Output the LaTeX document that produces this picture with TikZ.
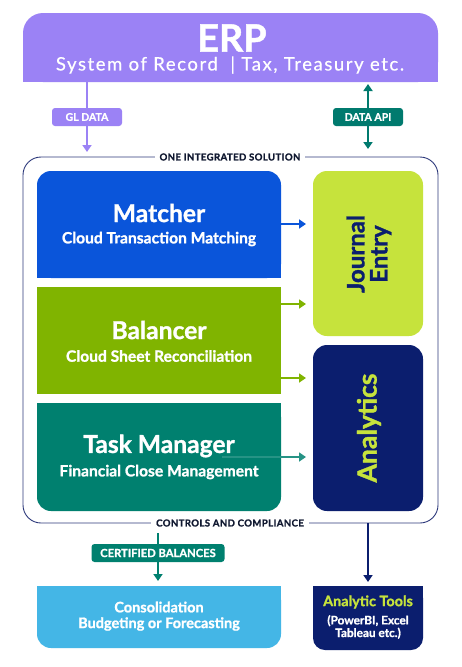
\documentclass[tikz,border=0pt]{standalone}
\usepackage{fontspec}
\setmainfont{Lato}[BoldFeatures={FakeBold=1.2}]
\newfontfamily\erpsubfont{Lato}[LetterSpace=8.5,FakeBold=0.5]
\newfontfamily\capsfont{Lato}[LetterSpace=4,BoldFeatures={FakeBold=1.2}]
\usetikzlibrary{arrows.meta}
\definecolor{erpc}{HTML}{9B82F5}
\definecolor{tealc}{HTML}{007A6E}
\definecolor{contc}{HTML}{2E3A7C}
\definecolor{matc}{HTML}{0A55DA}
\definecolor{balc}{HTML}{80B400}
\definecolor{taskc}{HTML}{00806F}
\definecolor{limec}{HTML}{C6E33C}
\definecolor{navyc}{HTML}{0B1E6E}
\definecolor{skyc}{HTML}{44B6E6}
\definecolor{labtxt}{HTML}{101830}
\tikzset{
  arr/.style={line width=2pt,-{Triangle[length=7pt,width=9pt]}},
  darr/.style={line width=2pt,{Triangle[length=7pt,width=9pt]}-{Triangle[length=7pt,width=9pt]}},
  tag/.style={rounded corners=3pt,text=white,font=\bfseries\fontsize{10.5}{12}\selectfont,minimum height=18pt,inner xsep=4pt},
  sect/.style={fill=white,text=labtxt,font=\capsfont\bfseries\fontsize{9.6}{11}\selectfont,inner xsep=5pt,inner ysep=1pt},
  ttl/.style={text=white,font=\bfseries\fontsize{24.6}{26}\selectfont},
  sub/.style={text=white,font=\bfseries\fontsize{15.6}{17}\selectfont},
}
\begin{document}
\begin{tikzpicture}[x=1pt,y=-1pt]
\useasboundingbox[fill=white] (0,0) rectangle (461,667);
% ERP
\fill[erpc,rounded corners=20pt] (23,13) rectangle (438,82);
\fill[erpc] (23,50) rectangle (438,82);
\node[text=white,font=\bfseries\fontsize{37.7}{38}\selectfont] (erp) at (232,38) {ERP};
\node[text=white,font=\erpsubfont\fontsize{18.5}{20}\selectfont] (erpsub) at (230,65) {System of Record \ | Tax, Treasury etc.};
\coordinate (gltop) at (87,82);
\coordinate (glbot) at (87,152);
\coordinate (apitop) at (368,84);
\coordinate (apibot) at (368,149);
\draw[arr,erpc] (gltop) -- (glbot);
\node[tag,fill=erpc,minimum width=70pt] (gl) at (87,117) {GL DATA};
\draw[darr,tealc] (apitop) -- (apibot);
\node[tag,fill=tealc,minimum width=70pt] (api) at (368,117) {DATA API};
% container
\draw[contc,line width=0.9pt,rounded corners=18pt] (23,157) rectangle (438,523);
\node[sect] (ois) at (230,157) {ONE INTEGRATED SOLUTION};
\node[sect] (cac) at (230,523) {CONTROLS AND COMPLIANCE};
% Matcher
\fill[matc,rounded corners=14pt] (37,171) rectangle (281,278);
\fill[matc] (37,230) rectangle (281,278);
\node[ttl] (mat) at (159,213) {Matcher};
\node[sub] (matsub) at (159,239) {Cloud Transaction Matching};
% Balancer
\fill[balc] (37,287) rectangle (281,394);
\node[ttl] (bal) at (159,330) {Balancer};
\node[sub] (balsub) at (159,356) {Cloud Sheet Reconciliation};
% Task Manager
\fill[taskc,rounded corners=14pt] (37,403) rectangle (281,511);
\fill[taskc] (37,403) rectangle (281,450);
\node[ttl] (task) at (159,446) {Task Manager};
\node[sub] (tasksub) at (159,472) {Financial Close Management};
% Journal entry
\fill[limec,rounded corners=14pt] (313,171) rectangle (423,336);
\node[rotate=90,text=navyc,align=center,font=\bfseries\fontsize{24}{23}\selectfont] (je) at (369,254) {Journal\\Entry};
% Analytics
\fill[navyc,rounded corners=14pt] (313,345) rectangle (423,511);
\node[rotate=90,text=limec,font=\bfseries\fontsize{26.5}{26}\selectfont] (an) at (369,428) {Analytics};
% side arrows
\coordinate (m1) at (281,224); \coordinate (m2) at (306,224);
\coordinate (b1) at (281,304); \coordinate (b2) at (306,304);
\coordinate (b3) at (281,378); \coordinate (b4) at (306,378);
\coordinate (t1) at (222,457); \coordinate (t2) at (306,457);
\draw[arr,matc] (m1) -- (m2);
\draw[arr,balc] (b1) -- (b2);
\draw[arr,balc] (b3) -- (b4);
\draw[arr,taskc!85!white] (t1) -- (t2);
% bottom
\coordinate (c1) at (158,533); \coordinate (c2) at (158,581);
\draw[arr,taskc] (c1) -- (c2);
\node[tag,fill=taskc,minimum width=133pt,font=\bfseries\fontsize{11.2}{12}\selectfont] (cert) at (158,553) {CERTIFIED BALANCES};
\coordinate (a1) at (368,523); \coordinate (a2) at (368,582);
\draw[arr,navyc] (a1) -- (a2);
\fill[skyc,rounded corners=14pt] (37,586) rectangle (281,648);
\fill[skyc] (37,586) rectangle (281,620);
\node[text=white,font=\bfseries\fontsize{14.5}{15}\selectfont] (cons) at (159,607) {Consolidation};
\node[text=white,font=\bfseries\fontsize{14.5}{15}\selectfont] (bud) at (159,624) {Budgeting or Forecasting};
\fill[navyc,rounded corners=12pt] (313,586) rectangle (423,650);
\fill[navyc] (313,586) rectangle (423,620);
\node[text=limec,font=\bfseries\fontsize{14.4}{15}\selectfont] (at) at (368,602) {Analytic Tools};
\node[text=white,align=center,font=\bfseries\fontsize{11.8}{12.6}\selectfont] (atsub) at (368,627) {(PowerBI, Excel\\Tableau etc.)};
\end{tikzpicture}
\end{document}
